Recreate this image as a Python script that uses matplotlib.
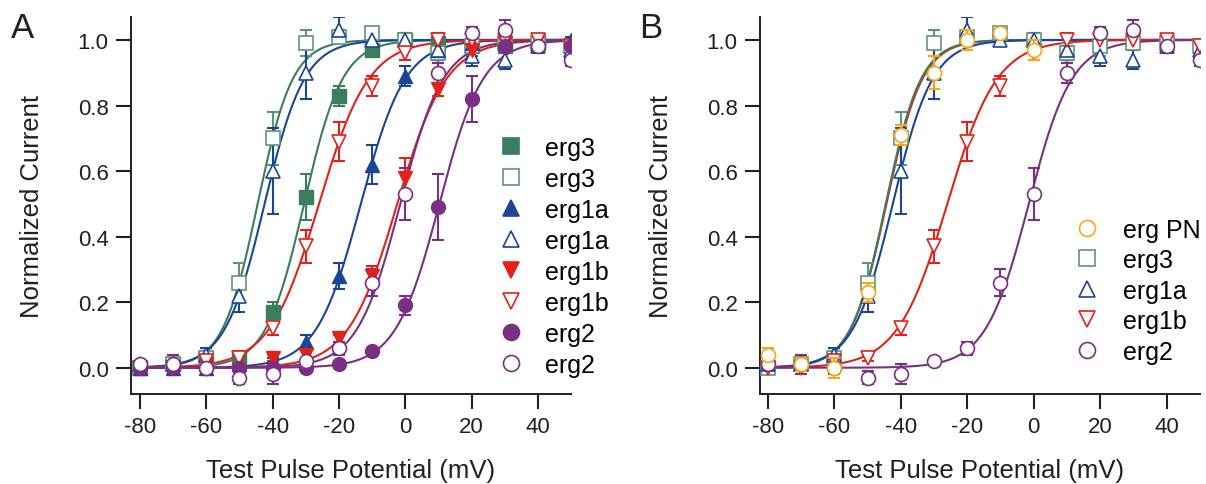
import numpy as np
import matplotlib
matplotlib.use("Agg")
import matplotlib.pyplot as plt
from matplotlib.lines import Line2D

plt.rcParams['font.family'] = ['Liberation Sans', 'DejaVu Sans']
plt.rcParams['axes.unicode_minus'] = False

# test pulse potentials (mV)
volts = [-80, -70, -60, -50, -40, -30, -20, -10, 0, 10, 20, 30, 40, 50]
volts_pn = [-80, -70, -60, -50, -40, -30, -20, -10, 0]

# normalized current, filled = one condition, open = other
erg3_f = [0.00, 0.01, 0.03, 0.03, 0.17, 0.52, 0.83, 0.97, 1.00, 0.99, 0.98, 0.98, 0.99, 0.98]
erg3_o = [0.00, 0.01, 0.03, 0.26, 0.70, 0.99, 1.01, 1.02, 1.00, 0.96, 0.98, 0.99, 0.99, 0.98]
erg1a_f = [0.00, 0.00, 0.00, 0.01, 0.02, 0.08, 0.28, 0.62, 0.89, 0.97, 0.99, 0.99, 1.00, 1.00]
erg1a_o = [0.01, 0.01, 0.04, 0.22, 0.60, 0.90, 1.03, 1.00, 1.00, 0.97, 0.95, 0.94, 0.98, 0.97]
erg1b_f = [0.00, 0.00, 0.01, 0.03, 0.03, 0.04, 0.09, 0.28, 0.58, 0.85, 0.97, 0.99, 1.00, 0.97]
erg1b_o = [0.00, 0.00, 0.02, 0.03, 0.12, 0.37, 0.69, 0.86, 0.96, 1.00, 1.00, 1.00, 1.00, 0.98]
erg2_f = [0.00, 0.00, 0.00, 0.00, 0.00, 0.00, 0.01, 0.05, 0.19, 0.49, 0.82, 0.98, 0.98, 0.98]
erg2_o = [0.01, 0.01, 0.00, -0.03, -0.02, 0.02, 0.06, 0.26, 0.53, 0.90, 1.02, 1.03, 0.98, 0.94]
ergpn = [0.04, 0.01, 0.00, 0.23, 0.71, 0.90, 1.00, 1.02, 0.97]

# error bars (SEM)
erg3_f_err = [0.01, 0.01, 0.01, 0.02, 0.03, 0.07, 0.03, 0.02, 0.01, 0.01, 0.01, 0.01, 0.01, 0.01]
erg3_o_err = [0.01, 0.02, 0.02, 0.06, 0.08, 0.04, 0.02, 0.02, 0.02, 0.03, 0.03, 0.02, 0.02, 0.02]
erg1a_f_err = [0.01, 0.01, 0.01, 0.01, 0.01, 0.02, 0.04, 0.06, 0.03, 0.02, 0.02, 0.01, 0.01, 0.01]
erg1a_o_err = [0.01, 0.01, 0.02, 0.05, 0.13, 0.08, 0.04, 0.02, 0.02, 0.03, 0.03, 0.03, 0.02, 0.02]
erg1b_f_err = [0.01, 0.01, 0.01, 0.01, 0.01, 0.01, 0.01, 0.03, 0.06, 0.02, 0.02, 0.01, 0.01, 0.02]
erg1b_o_err = [0.01, 0.01, 0.01, 0.01, 0.02, 0.05, 0.06, 0.03, 0.02, 0.02, 0.01, 0.01, 0.01, 0.02]
erg2_f_err = [0.01, 0.01, 0.01, 0.01, 0.01, 0.01, 0.01, 0.01, 0.03, 0.10, 0.07, 0.02, 0.01, 0.02]
erg2_o_err = [0.01, 0.03, 0.02, 0.02, 0.03, 0.01, 0.02, 0.04, 0.08, 0.03, 0.02, 0.03, 0.01, 0.02]
ergpn_err = [0.02, 0.02, 0.03, 0.03, 0.03, 0.05, 0.03, 0.01, 0.03]

# Boltzmann fit parameters (V1/2, slope k)
fit_erg3_f = (-30.5, 5.8)
fit_erg3_o = (-44.5, 5.3)
fit_erg1a_f = (-13.4, 6.7)
fit_erg1a_o = (-42.4, 6.0)
fit_erg1b_f = (-2.4, 7.4)
fit_erg1b_o = (-26.0, 7.5)
fit_erg2_f = (10.3, 6.6)
fit_erg2_o = (-1.5, 6.5)
fit_ergpn = (-44.3, 5.4)

GREEN = '#3b7d5c'
GREEN_L = '#5f957a'
BLUE = '#1b4597'
RED = '#e32119'
PURPLE = '#7b2f84'
ORANGE = '#f5a81c'
INK = '#231f20'


def boltz(v, vh, k):
    return 1.0 / (1.0 + np.exp(-(v - vh) / k))


vfine = np.linspace(-80, 50, 400)


def draw_series(ax, x, y, err, fit, color, marker, filled, label, fitcolor=None, z=0):
    ax.plot(vfine, boltz(vfine, *fit), color=fitcolor or color, lw=1.5, zorder=2)
    ax.errorbar(x, y, yerr=err, fmt='none', ecolor=color, elinewidth=1.5,
                capsize=4.5, capthick=1.5, zorder=3 + z)
    if filled:
        ax.plot(x, y, ls='none', marker=marker, ms=10, mfc=color, mec=color, zorder=4 + z)
    else:
        ax.plot(x, y, ls='none', marker=marker, ms=10, mfc='white', mec=color, mew=1.2, zorder=4 + z)
    return Line2D([], [], ls='none', marker=marker, ms=11.5, mfc=color if filled else 'white',
                  mec=color, mew=1.2, label=label)


def style_axes(ax, xmin):
    for s in ['top', 'right']:
        ax.spines[s].set_visible(False)
    for s in ['left', 'bottom']:
        ax.spines[s].set_linewidth(1.4)
        ax.spines[s].set_color(INK)
    ax.set_xlim(xmin, 50)
    ax.set_ylim(-0.08, 1.07)
    ax.set_xticks([-80, -60, -40, -20, 0, 20, 40])
    ax.set_yticks([0.0, 0.2, 0.4, 0.6, 0.8, 1.0])
    ax.set_yticklabels(['0.0', '0.2', '0.4', '0.6', '0.8', '1.0'])
    ax.tick_params(direction='out', length=11, width=1.5, color=INK, labelsize=16,
                   labelcolor=INK, pad=5)
    ax.set_xlabel('Test Pulse Potential (mV)', fontsize=18.5, color=INK, labelpad=15)
    ax.set_ylabel('Normalized Current', fontsize=18.5, color=INK, labelpad=24)


fig = plt.figure(figsize=(12.06, 4.85), dpi=100)
axA = fig.add_axes([0.1086, 0.1856, 0.3649, 0.7773])
axB = fig.add_axes([0.630, 0.1856, 0.365, 0.7773])

# panel A
hA = []
hA.append(draw_series(axA, volts, erg3_f, erg3_f_err, fit_erg3_f, GREEN, 's', True, 'erg3'))
hA.append(draw_series(axA, volts, erg3_o, erg3_o_err, fit_erg3_o, GREEN_L, 's', False, 'erg3', fitcolor=GREEN))
hA.append(draw_series(axA, volts, erg1a_f, erg1a_f_err, fit_erg1a_f, BLUE, '^', True, 'erg1a'))
hA.append(draw_series(axA, volts, erg1a_o, erg1a_o_err, fit_erg1a_o, BLUE, '^', False, 'erg1a'))
hA.append(draw_series(axA, volts, erg1b_f, erg1b_f_err, fit_erg1b_f, RED, 'v', True, 'erg1b'))
hA.append(draw_series(axA, volts, erg1b_o, erg1b_o_err, fit_erg1b_o, RED, 'v', False, 'erg1b'))
hA.append(draw_series(axA, volts, erg2_f, erg2_f_err, fit_erg2_f, PURPLE, 'o', True, 'erg2'))
hA.append(draw_series(axA, volts, erg2_o, erg2_o_err, fit_erg2_o, PURPLE, 'o', False, 'erg2'))
style_axes(axA, -82.7)
axA.legend(handles=hA, loc='upper left', bbox_to_anchor=(0.413, 0.718),
           bbox_transform=fig.transFigure, frameon=False, fontsize=18,
           handlelength=1.0, handletextpad=0.88, borderpad=0, borderaxespad=0,
           labelspacing=0.28)

# panel B (erg PN drawn on top, listed first)
hB = []
hB.append(draw_series(axB, volts_pn, ergpn, ergpn_err, fit_ergpn, ORANGE, 'o', False, 'erg PN',
                      fitcolor=RED, z=2))
hB.append(draw_series(axB, volts, erg3_o, erg3_o_err, fit_erg3_o, GREEN_L, 's', False, 'erg3', fitcolor=GREEN))
hB.append(draw_series(axB, volts, erg1a_o, erg1a_o_err, fit_erg1a_o, BLUE, '^', False, 'erg1a'))
hB.append(draw_series(axB, volts, erg1b_o, erg1b_o_err, fit_erg1b_o, RED, 'v', False, 'erg1b'))
hB.append(draw_series(axB, volts, erg2_o, erg2_o_err, fit_erg2_o, PURPLE, 'o', False, 'erg2'))
style_axes(axB, -82.4)
axB.legend(handles=hB, loc='upper left', bbox_to_anchor=(0.891, 0.549),
           bbox_transform=fig.transFigure, frameon=False, fontsize=18,
           handlelength=1.0, handletextpad=0.94, borderpad=0, borderaxespad=0,
           labelspacing=0.26)

fig.text(0.009, 0.975, 'A', fontsize=25, color=INK, va='top')
fig.text(0.530, 0.975, 'B', fontsize=25, color=INK, va='top')

fig.savefig('out.png', dpi=100)
